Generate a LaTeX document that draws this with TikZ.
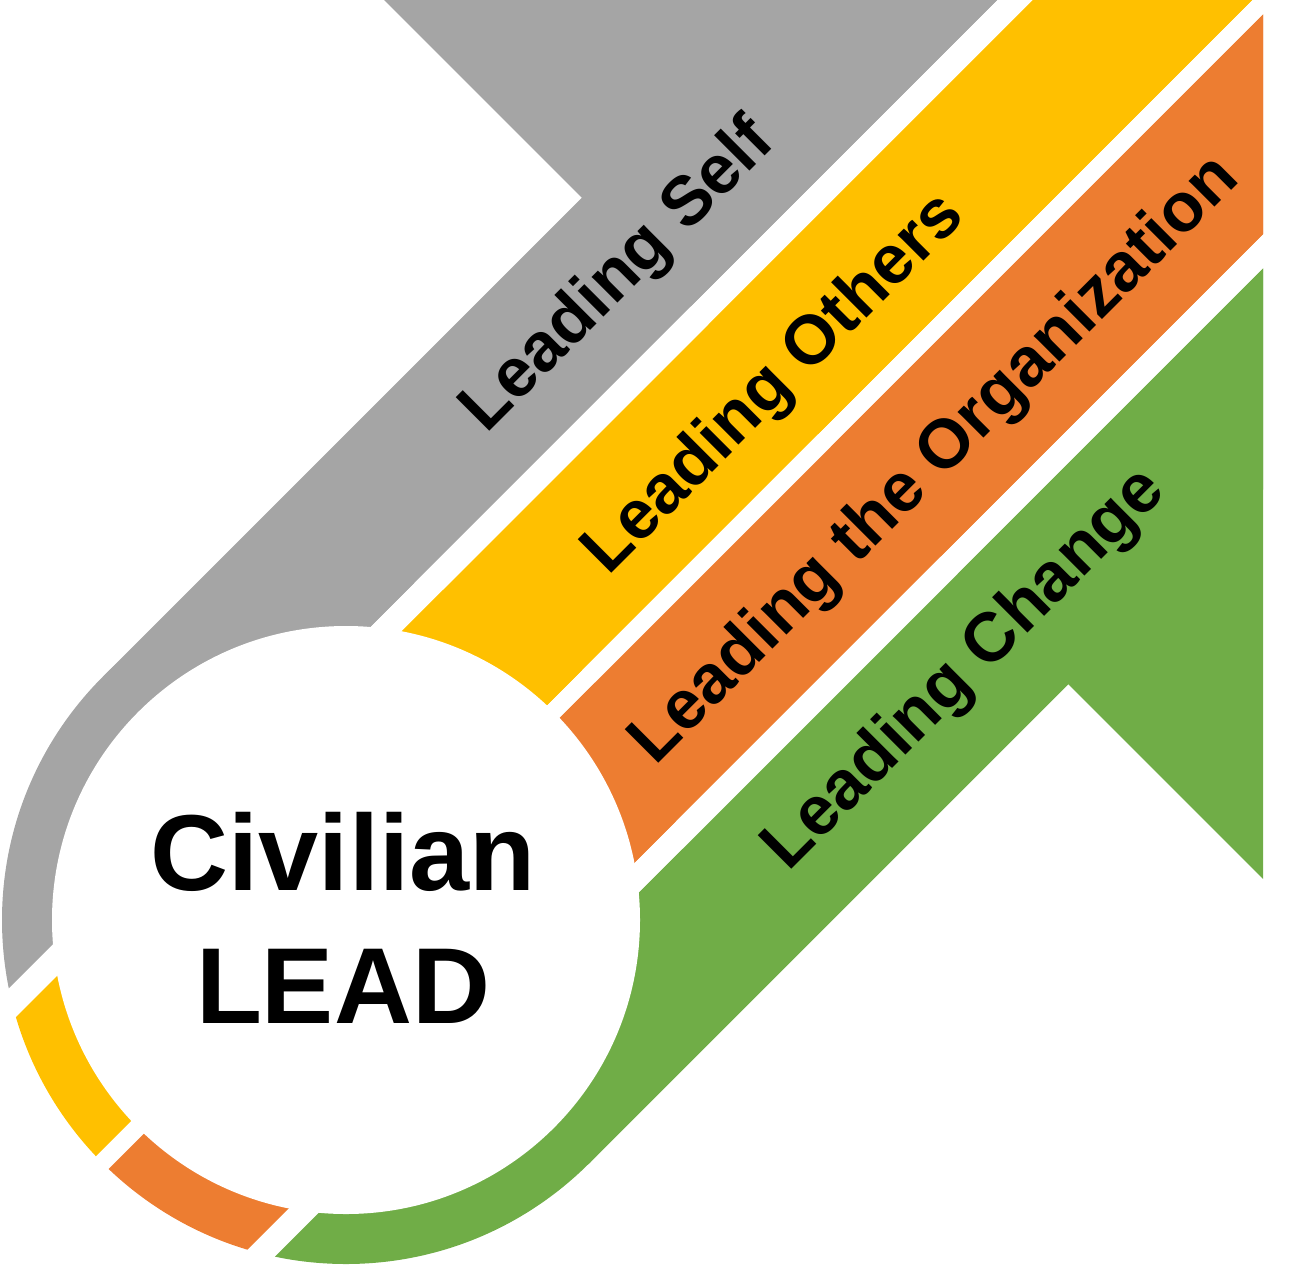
\documentclass[tikz,border=0pt]{standalone}
\usepackage{fontspec}
\setmainfont{Liberation Sans}
\definecolor{cgray}{HTML}{A5A5A5}
\definecolor{cyellow}{HTML}{FFC000}
\definecolor{corange}{HTML}{ED7D31}
\definecolor{cgreen}{HTML}{70AD47}
\newcommand{\leadfill}[1]{%
  \fill[#1] (346,920) circle[radius=344];
  \fill[#1] (102.75,676.75) -- (1139.75,-360.25) -- (1626.25,126.25) -- (589.25,1163.25) -- cycle;
  \fill[#1] (300,-84) -- (1400,1016) -- (2000,1016) -- (2000,-84) -- cycle;
}
\begin{document}
\begin{tikzpicture}[x=1pt,y=-1pt,
  lbl/.style={font=\fontsize{69}{80}\selectfont\bfseries, rotate=45, inner sep=0pt, anchor=base west},
  ctr/.style={font=\fontsize{108}{130}\selectfont\bfseries, inner sep=0pt, anchor=base}]
\useasboundingbox (0,0) rectangle (1308,1266);
\begin{scope}
  \clip (-10,0) rectangle (1263,1300);
  \begin{scope}
    \clip (-800,-200) -- (1197,-200) -- (-503,1500) -- (-2500,1500) -- cycle;
    \leadfill{cgray}
  \end{scope}
  \begin{scope}
    \clip (1233,-200) -- (1452,-200) -- (-248,1500) -- (-467,1500) -- cycle;
    \leadfill{cyellow}
  \end{scope}
  \begin{scope}
    \clip (1477.5,-200) -- (1697,-200) -- (-3,1500) -- (-222.5,1500) -- cycle;
    \leadfill{corange}
  \end{scope}
  \begin{scope}
    \clip (1731.5,-200) -- (3200,-200) -- (1500,1500) -- (31.5,1500) -- cycle;
    \leadfill{cgreen}
  \end{scope}
\end{scope}
\fill[white] (346,920) circle[radius=294];
\node[lbl] (self) at (486.5,434.5) {Leading Self};
\node[lbl] (others) at (608.2,576.2) {Leading Others};
\node[lbl] (org) at (655.5,766.5) {Leading the Organization};
\node[lbl] (change) at (788.2,872.8) {Leading Change};
\node[ctr] (civ) at (343,890) {Civilian};
\node[ctr] (lead) at (343,1023) {LEAD};
\end{tikzpicture}
\end{document}
